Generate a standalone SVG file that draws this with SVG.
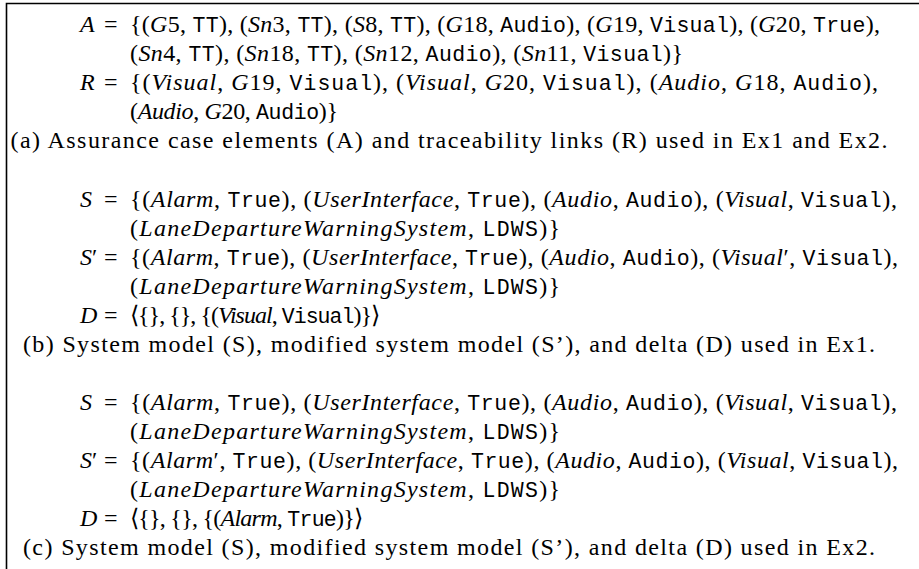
<svg xmlns="http://www.w3.org/2000/svg" width="919" height="569" viewBox="0 0 919 569">
<style>
text { font-family: "Liberation Serif", serif; font-size: 24px; fill: #000; }
.i { font-style: italic; }
.m { font-family: "Liberation Mono", monospace; font-size: 21.5px; }
.frame { fill: none; stroke: #000; stroke-width: 1.6; }
</style>
<rect width="919" height="569" fill="#fff"/>
<path class="frame" d="M6.5,569 V3.5 H919"/>
<g id="part-a">
<text x="80" y="32" class="i">A</text><text x="104" y="32">=</text>
<text x="130" y="32" textLength="750">{(<tspan class="i">G</tspan>5, <tspan class="m">TT</tspan>), (<tspan class="i">Sn</tspan>3, <tspan class="m">TT</tspan>), (<tspan class="i">S</tspan>8, <tspan class="m">TT</tspan>), (<tspan class="i">G</tspan>18, <tspan class="m">Audio</tspan>), (<tspan class="i">G</tspan>19, <tspan class="m">Visual</tspan>), (<tspan class="i">G</tspan>20, <tspan class="m">True</tspan>),</text>
<text x="130" y="61" textLength="553">(<tspan class="i">Sn</tspan>4, <tspan class="m">TT</tspan>), (<tspan class="i">Sn</tspan>18, <tspan class="m">TT</tspan>), (<tspan class="i">Sn</tspan>12, <tspan class="m">Audio</tspan>), (<tspan class="i">Sn</tspan>11, <tspan class="m">Visual</tspan>)}</text>
<text x="80" y="90" class="i">R</text><text x="104" y="90">=</text>
<text x="130" y="90" textLength="748">{(<tspan class="i">Visual</tspan>, <tspan class="i">G</tspan>19, <tspan class="m">Visual</tspan>), (<tspan class="i">Visual</tspan>, <tspan class="i">G</tspan>20, <tspan class="m">Visual</tspan>), (<tspan class="i">Audio</tspan>, <tspan class="i">G</tspan>18, <tspan class="m">Audio</tspan>),</text>
<text x="130" y="119" textLength="208">(<tspan class="i">Audio</tspan>, <tspan class="i">G</tspan>20, <tspan class="m">Audio</tspan>)}</text>
<text x="449" y="148" text-anchor="middle" textLength="877">(a) Assurance case elements (A) and traceability links (R) used in Ex1 and Ex2.</text>
</g>
<g id="part-b">
<text x="80" y="207" class="i">S</text><text x="104" y="207">=</text>
<text x="130" y="207" textLength="767">{(<tspan class="i">Alarm</tspan>, <tspan class="m">True</tspan>), (<tspan class="i">UserInterface</tspan>, <tspan class="m">True</tspan>), (<tspan class="i">Audio</tspan>, <tspan class="m">Audio</tspan>), (<tspan class="i">Visual</tspan>, <tspan class="m">Visual</tspan>),</text>
<text x="130" y="236" textLength="430">(<tspan class="i">LaneDepartureWarningSystem</tspan>, <tspan class="m">LDWS</tspan>)}</text>
<text x="80" y="265"><tspan class="i">S</tspan>′</text><text x="104" y="265">=</text>
<text x="130" y="265" textLength="768">{(<tspan class="i">Alarm</tspan>, <tspan class="m">True</tspan>), (<tspan class="i">UserInterface</tspan>, <tspan class="m">True</tspan>), (<tspan class="i">Audio</tspan>, <tspan class="m">Audio</tspan>), (<tspan class="i">Visual</tspan>′, <tspan class="m">Visual</tspan>),</text>
<text x="130" y="294" textLength="430">(<tspan class="i">LaneDepartureWarningSystem</tspan>, <tspan class="m">LDWS</tspan>)}</text>
<text x="80" y="323" class="i">D</text><text x="104" y="323">=</text>
<text x="130" y="323" textLength="250">⟨{}, {}, {(<tspan class="i">Visual</tspan>, <tspan class="m">Visual</tspan>)}⟩</text>
<text x="449" y="352" text-anchor="middle" textLength="852">(b) System model (S), modified system model (S’), and delta (D) used in Ex1.</text>
</g>
<g id="part-c">
<text x="80" y="410" class="i">S</text><text x="104" y="410">=</text>
<text x="130" y="410" textLength="767">{(<tspan class="i">Alarm</tspan>, <tspan class="m">True</tspan>), (<tspan class="i">UserInterface</tspan>, <tspan class="m">True</tspan>), (<tspan class="i">Audio</tspan>, <tspan class="m">Audio</tspan>), (<tspan class="i">Visual</tspan>, <tspan class="m">Visual</tspan>),</text>
<text x="130" y="439" textLength="430">(<tspan class="i">LaneDepartureWarningSystem</tspan>, <tspan class="m">LDWS</tspan>)}</text>
<text x="80" y="468"><tspan class="i">S</tspan>′</text><text x="104" y="468">=</text>
<text x="130" y="468" textLength="768">{(<tspan class="i">Alarm</tspan>′, <tspan class="m">True</tspan>), (<tspan class="i">UserInterface</tspan>, <tspan class="m">True</tspan>), (<tspan class="i">Audio</tspan>, <tspan class="m">Audio</tspan>), (<tspan class="i">Visual</tspan>, <tspan class="m">Visual</tspan>),</text>
<text x="130" y="497" textLength="430">(<tspan class="i">LaneDepartureWarningSystem</tspan>, <tspan class="m">LDWS</tspan>)}</text>
<text x="80" y="526" class="i">D</text><text x="104" y="526">=</text>
<text x="130" y="526" textLength="233">⟨{}, {}, {(<tspan class="i">Alarm</tspan>, <tspan class="m">True</tspan>)}⟩</text>
<text x="449" y="555" text-anchor="middle" textLength="852">(c) System model (S), modified system model (S’), and delta (D) used in Ex2.</text>
</g>
</svg>
